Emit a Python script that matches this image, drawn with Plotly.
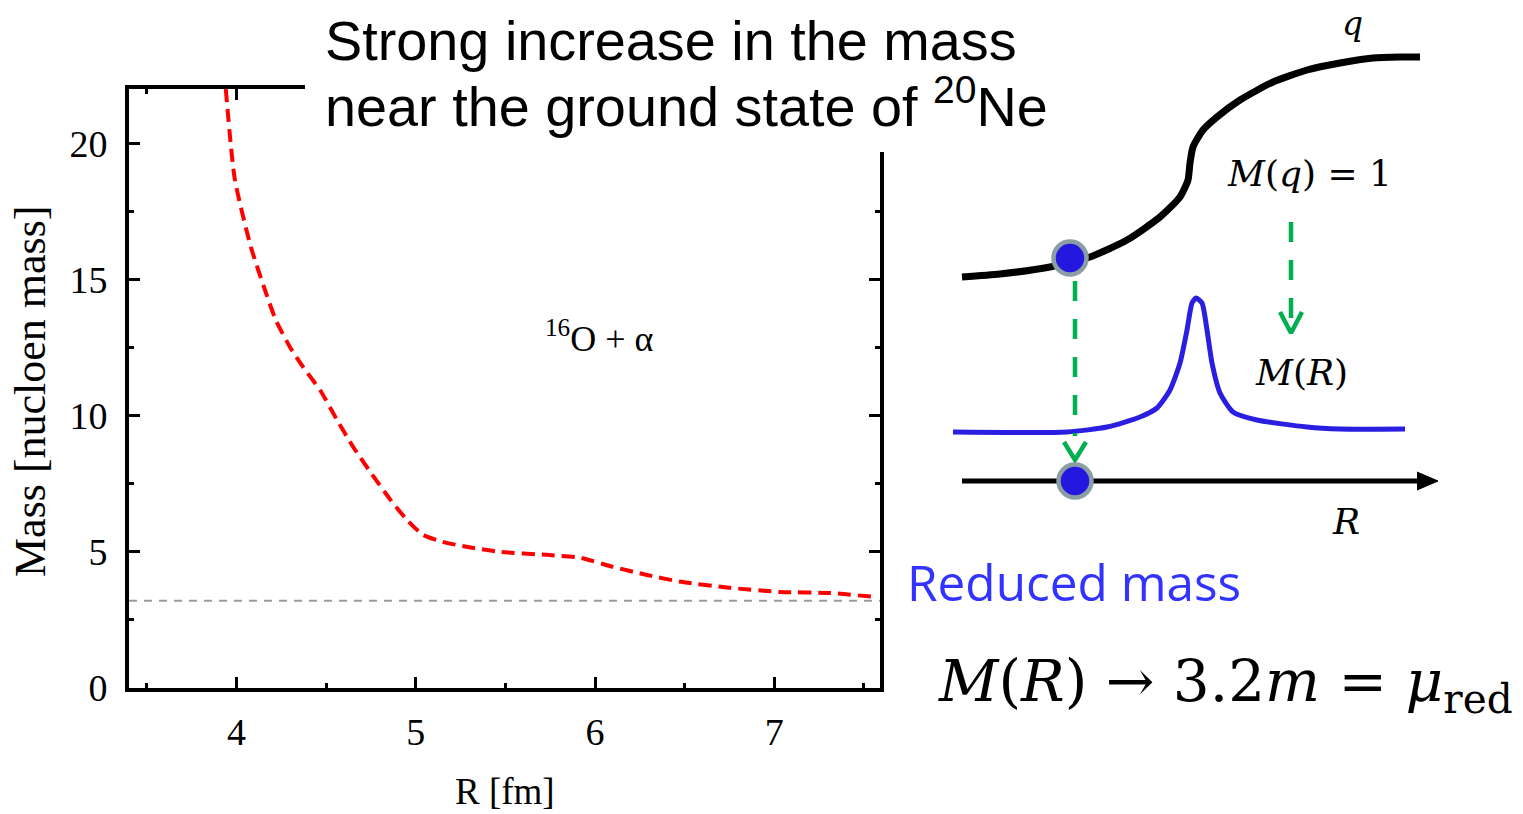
import plotly.graph_objects as go

W, H = 1523, 814

# ---------------- left chart data ----------------
R_fm = [3.94, 3.99, 4.08, 4.17, 4.22, 4.30, 4.37, 4.47, 4.56, 4.65, 4.75, 4.86,
        4.95, 5.04, 5.15, 5.29, 5.47, 5.73, 5.92, 6.10, 6.29, 6.48, 6.75, 7.03,
        7.31, 7.55]
mass = [22.0, 18.7, 16.2, 14.4, 13.5, 12.5, 11.8, 10.9, 9.85, 8.86, 7.9, 6.9,
        6.18, 5.63, 5.37, 5.18, 5.0, 4.89, 4.78, 4.45, 4.15, 3.9, 3.68, 3.53,
        3.49, 3.35]
reduced_mass = 3.2
x_range = [3.4, 7.59]
y_range = [0, 22]
x_ticks = [4, 5, 6, 7]
x_minor = [3.5, 4.5, 5.5, 6.5, 7.5]
y_ticks = [0, 5, 10, 15, 20]
y_minor = [2.5, 7.5, 12.5, 17.5]

# ---------------- schematic (right) data, in slide pixel units ----------------
q_x = [962, 1000, 1050, 1090, 1127, 1160, 1180, 1188, 1190, 1193, 1203, 1217,
       1240, 1273, 1307, 1340, 1373, 1400, 1420]
q_y = [277, 274, 267, 257, 240, 217, 197, 180, 163, 147, 130, 117,
       100, 82, 70, 63, 58, 57, 57]
mr_x = [953, 1067, 1107, 1140, 1157, 1170, 1180, 1187, 1192, 1196, 1202, 1207,
        1212, 1220, 1233, 1257, 1307, 1340, 1405]
mr_y = [432, 432, 427, 417, 408, 390, 363, 330, 303, 298, 303, 330,
        363, 393, 412, 420, 427, 429, 429]
r_axis_x = [962, 1420]
r_axis_y = [481, 481]
r_head_x = [1417, 1438, 1417]
r_head_y = [472, 481, 490]
dot_x = [1070, 1075]
dot_y = [258, 481]
left_shaft_x = [1075, 1075]
left_shaft_y = [281, 436]
left_head_x = [1064, 1075, 1086]
left_head_y = [442, 460, 442]
right_shaft_x = [1291, 1291]
right_shaft_y = [222, 318]
right_head_x = [1280, 1291, 1302]
right_head_y = [312, 333, 312]

fig = go.Figure()

fig.add_trace(go.Scatter(x=x_range, y=[reduced_mass, reduced_mass], mode="lines",
                         line=dict(color="#9a9a9a", width=2, dash="8px,7px"),
                         xaxis="x", yaxis="y", hoverinfo="skip"))
fig.add_trace(go.Scatter(x=R_fm, y=mass, mode="lines",
                         line=dict(color="#ff0000", width=4, dash="13px,7px",
                                   shape="spline", smoothing=0.6),
                         xaxis="x", yaxis="y"))

GREEN = "#00b050"
BLUE = "#2418e0"
fig.add_trace(go.Scatter(x=q_x, y=q_y, mode="lines",
                         line=dict(color="black", width=7, shape="spline", smoothing=0.6),
                         xaxis="x2", yaxis="y2"))
fig.add_trace(go.Scatter(x=mr_x, y=mr_y, mode="lines",
                         line=dict(color="#2a1fe0", width=5, shape="spline", smoothing=0.6),
                         xaxis="x2", yaxis="y2"))
fig.add_trace(go.Scatter(x=r_axis_x, y=r_axis_y, mode="lines",
                         line=dict(color="black", width=5), xaxis="x2", yaxis="y2"))
fig.add_trace(go.Scatter(x=r_head_x, y=r_head_y, mode="lines", fill="toself",
                         fillcolor="black", line=dict(color="black", width=1),
                         xaxis="x2", yaxis="y2"))
for sx, sy, hx, hy in [(left_shaft_x, left_shaft_y, left_head_x, left_head_y),
                       (right_shaft_x, right_shaft_y, right_head_x, right_head_y)]:
    fig.add_trace(go.Scatter(x=sx, y=sy, mode="lines",
                             line=dict(color=GREEN, width=4.5, dash="20px,18px"),
                             xaxis="x2", yaxis="y2"))
    fig.add_trace(go.Scatter(x=hx, y=hy, mode="lines",
                             line=dict(color=GREEN, width=4.5),
                             xaxis="x2", yaxis="y2"))
fig.add_trace(go.Scatter(x=dot_x, y=dot_y, mode="markers",
                         marker=dict(size=33, color=BLUE,
                                     line=dict(color="#8a9ea3", width=4.5)),
                         xaxis="x2", yaxis="y2"))

serif = "Liberation Serif"
axis_common = dict(showline=True, linewidth=4, linecolor="black", mirror="allticks",
                   ticks="inside", ticklen=11, tickwidth=3, tickcolor="black",
                   showgrid=False, zeroline=False, automargin=False,
                   tickfont=dict(family=serif, size=38, color="black"))

fig.update_layout(
    template="none",
    width=W, height=H, autosize=False, margin=dict(l=0, r=0, t=0, b=0, pad=0),
    paper_bgcolor="white", plot_bgcolor="rgba(0,0,0,0)", showlegend=False,
    xaxis=dict(domain=[129 / W, 880 / W], range=x_range, tickvals=x_ticks,
               ticklabelstandoff=7, anchor="y",
               minor=dict(tickvals=x_minor, ticks="inside", ticklen=5, tickwidth=3,
                          tickcolor="black", showgrid=False),
               **axis_common),
    yaxis=dict(domain=[1 - 688 / H, 1 - 89 / H], range=y_range, tickvals=y_ticks,
               ticklabelstandoff=10, anchor="x",
               minor=dict(tickvals=y_minor, ticks="inside", ticklen=5, tickwidth=3,
                          tickcolor="black", showgrid=False),
               **axis_common),
    xaxis2=dict(domain=[0, 1], range=[0, W], visible=False, anchor="y2",
                fixedrange=True, automargin=False),
    yaxis2=dict(domain=[0, 1], range=[H, 0], visible=False, anchor="x2",
                fixedrange=True, automargin=False),
)

fig.add_shape(type="rect", xref="x2", yref="y2", x0=305, x1=888, y0=0, y1=152,
              fillcolor="white", line=dict(width=0), layer="above")

ann = []
def A(text, x, y, size, family, color="black", xanchor="center", yanchor="bottom", angle=0):
    ann.append(dict(text=text, x=x, y=y, xref="x2", yref="y2", showarrow=False,
                    xanchor=xanchor, yanchor=yanchor, textangle=angle,
                    font=dict(size=size, family=family, color=color)))

A("Mass [nucloen mass]", 30, 391, 44, serif, yanchor="middle", angle=-90)
A("R [fm]", 505, 814, 37, serif)
A("<sup>16</sup>O + α", 599, 361, 36, serif)

sans = "Liberation Sans"
A("Strong increase in the mass", 323, 74, 55.8, sans, xanchor="left")
A("near the ground state of <sup>20</sup>Ne", 323, 140, 55.8, sans, xanchor="left")

math = "DejaVu Serif"
A("<i>q</i>", 1352, 23, 33, math, yanchor="middle")
A("<i>M</i>(<i>q</i>) = 1", 1309, 196, 36, math)
A("<i>M</i>(<i>R</i>)", 1301, 395, 36, math)
A("<i>R</i>", 1346, 544, 36, math)
A("Reduced mass", 905, 618, 49.5, "Open Sans", color="#3333ff", xanchor="left")
A("<i>M</i>(<i>R</i>) → 3.2<i>m</i> = <i>μ</i><sub>red</sub>", 936, 725, 58, math,
  xanchor="left")

fig.update_layout(annotations=ann)
fig.write_html("out.html", config={"responsive": False})
